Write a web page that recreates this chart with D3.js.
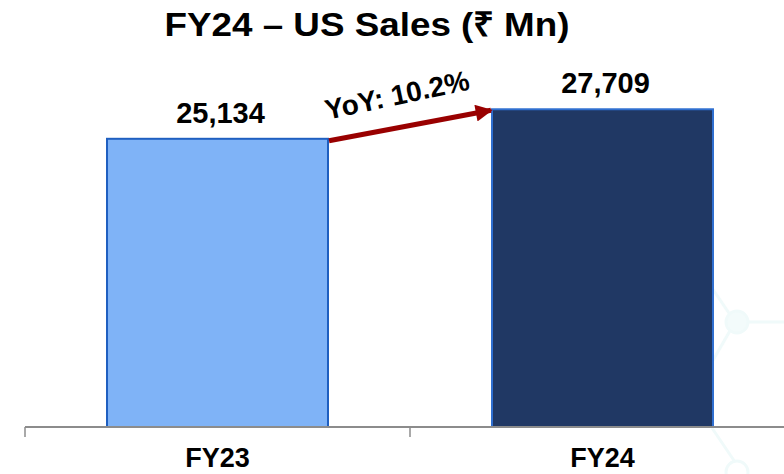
<!DOCTYPE html>
<html>
<head>
<meta charset="utf-8">
<script src="https://cdn.jsdelivr.net/npm/d3@7"></script>
<style>
  body { margin: 0; background: #fff; }
  svg { display: block; }
  text { font-family: "Liberation Sans", Arial, sans-serif; font-weight: bold; fill: #000; }
</style>
</head>
<body>
<div id="viz"></div>
<script>
// chart data
var categories = ['FY23', 'FY24'];
var sales = [25134, 27709];
var barColors = ['#7fb3f7', '#203864'];
var growthLabel = 'YoY: 10.2%';
var title = 'FY24 \u2013 US Sales (\u20b9 Mn)';

var width = 784, height = 474;

var svg = d3.select('#viz').append('svg')
  .attr('width', width)
  .attr('height', height);

var defs = svg.append('defs');
defs.append('marker')
  .attr('id', 'arrow')
  .attr('viewBox', '0 0 10 10')
  .attr('refX', 9).attr('refY', 5)
  .attr('markerWidth', 3.6).attr('markerHeight', 3.4)
  .attr('orient', 'auto')
  .append('path')
  .attr('d', 'M0,0 L10,5 L0,10 z')
  .attr('fill', '#990000');

// very faint background decoration (bottom right)
var deco = svg.append('g')
  .attr('stroke', '#f0fafa').attr('fill', 'none').attr('stroke-width', 3);
deco.append('path').attr('d', 'M712,288 L735,322 L712,362');
deco.append('path').attr('d', 'M735,322 L784,322');
deco.append('circle').attr('cx', 737).attr('cy', 322).attr('r', 11).attr('fill', '#f3fbfb');
deco.append('path').attr('d', 'M712,428 L735,462');
deco.append('circle').attr('cx', 737).attr('cy', 472).attr('r', 11);

// scales
var x = d3.scaleBand()
  .domain(categories)
  .range([25, 795])
  .paddingInner(0.426)
  .paddingOuter(0.213);

var y = d3.scaleLinear()
  .domain([0, 30000])
  .range([427, 83]);

// title
svg.append('text')
  .attr('x', 367).attr('y', 36)
  .attr('text-anchor', 'middle')
  .attr('textLength', 405)
  .attr('lengthAdjust', 'spacingAndGlyphs')
  .style('font-size', '34px')
  .text(title);

// bars
svg.selectAll('.bar')
  .data(sales)
  .enter()
  .append('rect')
  .attr('class', 'bar')
  .attr('x', function (d, i) { return x(categories[i]); })
  .attr('y', function (d) { return y(d); })
  .attr('width', x.bandwidth())
  .attr('height', function (d) { return y(0) - y(d); })
  .attr('fill', function (d, i) { return barColors[i]; })
  .attr('stroke', function (d, i) { return i === 0 ? '#1f5fc0' : '#2f6fd0'; })
  .attr('stroke-width', 2);

// value labels
svg.selectAll('.val')
  .data(sales)
  .enter()
  .append('text')
  .attr('class', 'val')
  .attr('x', function (d, i) { return x(categories[i]) + x.bandwidth() / 2 + 3; })
  .attr('y', function (d) { return y(d) - 16; })
  .attr('text-anchor', 'middle')
  .style('font-size', '29px')
  .text(function (d) { return d3.format(',')(d); });

// x axis line with ticks at category boundaries
var step = x.step();
var axisY = y(0);
svg.append('line')
  .attr('x1', 25).attr('x2', width)
  .attr('y1', axisY).attr('y2', axisY)
  .attr('stroke', '#8c8c8c').attr('stroke-width', 2);

var bounds = [0, 1, 2].map(function (i) { return 25 + i * step; });
svg.selectAll('.tick')
  .data(bounds)
  .enter()
  .append('line')
  .attr('x1', function (d) { return d; })
  .attr('x2', function (d) { return d; })
  .attr('y1', axisY).attr('y2', axisY + 10)
  .attr('stroke', '#8c8c8c').attr('stroke-width', 1.5);

svg.selectAll('.cat')
  .data(categories)
  .enter()
  .append('text')
  .attr('class', 'cat')
  .attr('x', function (d) { return x(d) + x.bandwidth() / 2; })
  .attr('y', 467)
  .attr('text-anchor', 'middle')
  .style('font-size', '27px')
  .text(function (d) { return d; });

// growth arrow from FY23 top right to FY24 top left
var x0 = x(categories[0]) + x.bandwidth() + 1, y0 = y(sales[0]) + 2;
var x1 = x(categories[1]) - 1, y1 = y(sales[1]) + 1;
svg.append('line')
  .attr('x1', x0).attr('y1', y0)
  .attr('x2', x1).attr('y2', y1)
  .attr('stroke', '#990000')
  .attr('stroke-width', 5)
  .attr('marker-end', 'url(#arrow)');

svg.append('text')
  .attr('transform', 'translate(' + ((x0 + x1) / 2 - 11) + ',' + ((y0 + y1) / 2 - 21) + ') rotate(-12)')
  .attr('text-anchor', 'middle')
  .style('font-size', '28px')
  .text(growthLabel);
</script>
</body>
</html>
